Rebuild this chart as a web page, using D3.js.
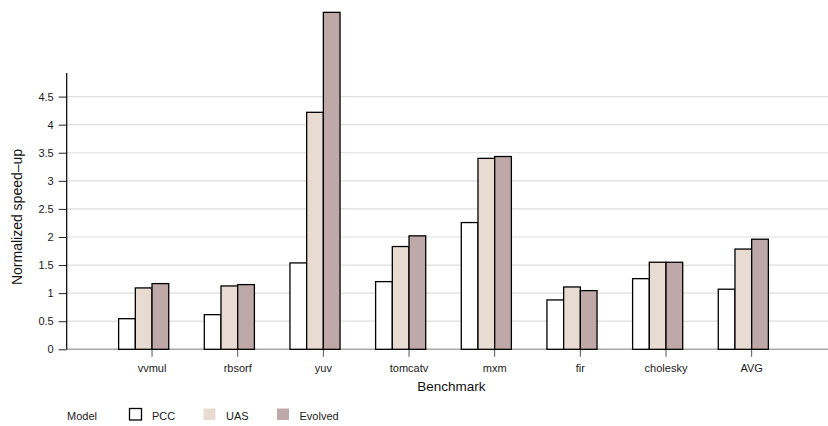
<!DOCTYPE html>
<html>
<head>
<meta charset="utf-8">
<script src="https://cdn.jsdelivr.net/npm/d3@7"></script>
<style>
  html, body { margin: 0; padding: 0; background: #fff; }
  svg { display: block; font-family: "Liberation Sans", Arial, Helvetica, sans-serif; }
</style>
</head>
<body>
<svg id="chart" width="828" height="426"></svg>
<script>
// Benchmarks on the x axis
const categories = ["vvmul", "rbsorf", "yuv", "tomcatv", "mxm", "fir", "cholesky", "AVG"];
// Compilation models (legend order)
const seriesNames = ["PCC", "UAS", "Evolved"];
// Normalized speed-up per model, one entry per benchmark
const pccValues     = [0.545, 0.617, 1.538, 1.205, 2.257, 0.879, 1.258, 1.07];
const uasValues     = [1.093, 1.128, 4.22, 1.83, 3.40, 1.11, 1.55, 1.785];
const evolvedValues = [1.17, 1.152, 6.0, 2.02, 3.433, 1.045, 1.55, 1.96];
// Y axis ticks
const yTickValues = [0, 0.5, 1, 1.5, 2, 2.5, 3, 3.5, 4, 4.5];
const yTickLabels = ["0", "0.5", "1", "1.5", "2", "2.5", "3", "3.5", "4", "4.5"];
const seriesColors = ["#ffffff", "#e8dbd2", "#bfa9a8"];

const seriesValues = [pccValues, uasValues, evolvedValues];
const rows = categories.map((c, i) => ({
  category: c,
  values: seriesNames.map((s, k) => ({ series: s, value: seriesValues[k][i] }))
}));

const svg = d3.select("#chart");
const plotLeft = 66.7, plotRight = 828, plotTop = 73, plotBottom = 349.3;

const y = d3.scaleLinear().domain([0, 4.92]).range([plotBottom, plotTop]);
const x = d3.scaleBand().domain(categories).range([109.2, 794.5]).padding(0);
const xs = d3.scaleBand().domain(seriesNames).range([-33.4, 16.7]).padding(0);
const color = d3.scaleOrdinal().domain(seriesNames).range(seriesColors);
const cx = c => x(c) + x.bandwidth() / 2;

// horizontal grid
svg.append("g").selectAll("line")
  .data(yTickValues.filter(v => v > 0))
  .join("line")
  .attr("x1", plotLeft).attr("x2", plotRight)
  .attr("y1", d => y(d)).attr("y2", d => y(d))
  .attr("stroke", "#dedede").attr("stroke-width", 1.2);

// baseline
svg.append("line")
  .attr("x1", plotLeft).attr("x2", plotRight)
  .attr("y1", y(0)).attr("y2", y(0))
  .attr("stroke", "#a8a8a8").attr("stroke-width", 1.5);

// x ticks
svg.append("g").selectAll("line")
  .data(categories)
  .join("line")
  .attr("x1", d => cx(d)).attr("x2", d => cx(d))
  .attr("y1", y(0)).attr("y2", y(0) + 7.5)
  .attr("stroke", "#555").attr("stroke-width", 1);

// bars
const groups = svg.append("g").selectAll("g")
  .data(rows)
  .join("g")
  .attr("transform", d => `translate(${cx(d.category)},0)`);

groups.selectAll("rect")
  .data(d => d.values)
  .join("rect")
  .attr("x", d => xs(d.series))
  .attr("width", xs.bandwidth())
  .attr("y", d => y(d.value))
  .attr("height", d => y(0) - y(d.value))
  .attr("fill", d => color(d.series))
  .attr("stroke", "#000").attr("stroke-width", 1.3);

// y axis
const yAxis = d3.axisLeft(y)
  .tickValues(yTickValues)
  .tickFormat((d, i) => yTickLabels[i])
  .tickSize(8).tickPadding(5);
const yg = svg.append("g").attr("transform", `translate(${plotLeft},0)`).call(yAxis);
yg.select(".domain").remove();
yg.selectAll(".tick line").attr("stroke", "#222");
yg.selectAll(".tick text")
  .attr("font-family", "Liberation Sans, Arial, sans-serif")
  .attr("font-size", 11).attr("fill", "#1a1a1a");
svg.append("line")
  .attr("x1", plotLeft).attr("x2", plotLeft)
  .attr("y1", plotTop).attr("y2", plotBottom)
  .attr("stroke", "#000").attr("stroke-width", 1.2);

// x labels
svg.append("g").selectAll("text")
  .data(categories)
  .join("text")
  .attr("x", d => cx(d)).attr("y", 372)
  .attr("text-anchor", "middle")
  .attr("font-size", 11).attr("fill", "#1a1a1a")
  .text(d => d);

// axis titles
svg.append("text")
  .attr("x", (plotLeft + plotRight) / 2 + 4).attr("y", 391)
  .attr("text-anchor", "middle")
  .attr("font-size", 13.5).attr("fill", "#111")
  .text("Benchmark");

svg.append("text")
  .attr("transform", "translate(22,217) rotate(-90)")
  .attr("text-anchor", "middle")
  .attr("font-size", 14).attr("fill", "#111")
  .text("Normalized speed–up");

// legend
const legend = svg.append("g");
legend.append("text")
  .attr("x", 67).attr("y", 419.5)
  .attr("font-size", 11).attr("fill", "#1a1a1a")
  .text("Model");
const legendX = [129.5, 203.5, 277];
seriesNames.forEach((s, k) => {
  const g = legend.append("g").attr("transform", `translate(${legendX[k]},408.5)`);
  g.append("rect")
    .attr("width", 12).attr("height", 11.5)
    .attr("fill", color(s))
    .attr("stroke", k === 0 ? "#000" : "none").attr("stroke-width", 1.3);
  g.append("text")
    .attr("x", 22.5).attr("y", 11)
    .attr("font-size", 11).attr("fill", "#1a1a1a")
    .text(s);
});
</script>
</body>
</html>
